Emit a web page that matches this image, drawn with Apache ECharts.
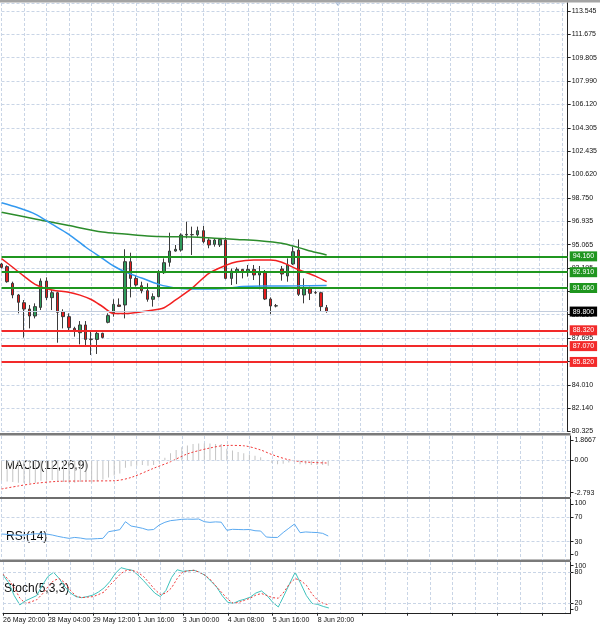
<!DOCTYPE html>
<html>
<head>
<meta charset="utf-8">
<script src="https://cdn.jsdelivr.net/npm/echarts@6/dist/echarts.min.js"></script>
<style>
html, body { margin: 0; padding: 0; background: #fff; }
#main { width: 600px; height: 629px; }
</style>
</head>
<body>
<div id="main"></div>
<script>
// bar times shown on the bottom axis (one every 8 bars)
var timeLabels = ['26 May 20:00', '28 May 04:00', '29 May 12:00', '1 Jun 16:00',
    '3 Jun 00:00', '4 Jun 08:00', '5 Jun 16:00', '8 Jun 20:00'];

// price scale labels, bottom to top
var priceTicks = ['80.325', '82.140', '84.010', '85.825', '87.695', '89.510', '91.380',
    '93.195', '95.065', '96.935', '98.750', '100.620', '102.435', '104.305', '106.120',
    '107.990', '109.805', '111.675', '113.545'];

// 4H bars: [open, close, low, high]
var ohlc = [
    [93.56, 93.29, 93.20, 93.65], [93.35, 92.16, 92.08, 93.45], [92.03, 91.11, 90.85, 92.16],
    [91.11, 90.53, 89.66, 91.19], [90.50, 90.00, 87.74, 90.71], [90.00, 89.45, 88.47, 90.32],
    [89.45, 90.19, 89.26, 90.45], [90.13, 92.21, 89.92, 92.42], [92.21, 90.90, 90.71, 92.50],
    [90.90, 91.29, 89.92, 91.50], [91.29, 89.74, 87.34, 91.37], [89.79, 89.40, 88.47, 89.98],
    [89.40, 88.53, 88.21, 89.66], [88.47, 88.26, 87.82, 88.60], [88.13, 88.74, 87.21, 89.05],
    [88.74, 87.60, 87.03, 89.05], [87.60, 87.62, 86.37, 88.34], [87.60, 88.08, 86.45, 88.34],
    [88.08, 87.76, 87.68, 88.13], [88.95, 89.48, 88.87, 89.66], [89.71, 90.37, 89.40, 90.77],
    [90.32, 90.21, 90.19, 90.84], [90.32, 93.74, 89.26, 94.72], [93.74, 92.42, 90.92, 94.45],
    [92.42, 91.90, 91.77, 92.69], [91.84, 91.45, 91.24, 92.16], [91.45, 90.77, 90.58, 92.03],
    [90.77, 90.98, 90.19, 91.24], [90.98, 92.87, 90.92, 93.08], [92.87, 93.66, 92.77, 94.00],
    [93.69, 94.58, 93.35, 96.03], [94.58, 94.72, 94.53, 95.06], [94.66, 95.85, 94.53, 95.98],
    [95.85, 95.90, 95.59, 96.90], [95.88, 95.87, 94.27, 96.51], [95.87, 96.19, 95.72, 96.51],
    [96.19, 95.32, 95.19, 96.56], [95.45, 95.06, 94.80, 95.59], [95.11, 95.45, 94.93, 95.59],
    [95.06, 95.50, 94.90, 95.60], [95.45, 92.42, 92.35, 95.66], [92.42, 93.00, 91.90, 93.20],
    [92.95, 93.13, 91.97, 93.29], [93.13, 92.95, 92.42, 93.16], [92.95, 93.13, 92.56, 93.48],
    [93.13, 92.69, 92.29, 93.48], [92.69, 92.95, 91.56, 93.40], [92.87, 90.79, 90.71, 93.08],
    [90.79, 90.24, 89.60, 90.92], [90.24, 90.26, 90.13, 90.40], [93.16, 92.77, 92.24, 93.40],
    [92.61, 93.48, 92.16, 94.00], [93.56, 94.53, 93.48, 94.93], [94.66, 91.16, 91.03, 95.50],
    [91.11, 91.63, 90.45, 92.42], [91.63, 91.24, 90.71, 91.77], [91.30, 91.28, 91.19, 91.42],
    [91.29, 90.19, 89.79, 91.37], [90.11, 89.80, 89.71, 90.32]
];

// moving averages read at sampled bars: [bar, price]
var maSlow = [[0, 97.64], [6, 97.12], [12, 96.60], [18, 96.08], [22, 95.93], [26, 95.77],
    [30, 95.71], [34, 95.70], [38, 95.60], [42, 95.50], [46, 95.40], [50, 95.20], [53, 94.85],
    [56, 94.48], [58, 94.27]];
var maMid = [[0, 98.40], [3, 98.00], [6, 97.50], [9, 96.70], [12, 95.90], [15, 94.90],
    [18, 94.00], [20, 93.40], [22, 92.95], [25, 92.45], [28, 91.95], [30, 91.75], [32, 91.62],
    [36, 91.58], [40, 91.62], [43, 91.78], [48, 91.82], [53, 91.83], [58, 91.86]];
var maFast = [[0, 93.98], [2, 93.30], [4, 92.60], [6, 91.95], [9, 91.50], [12, 91.33],
    [14, 91.10], [16, 90.75], [18, 90.20], [20, 89.65], [22, 89.65], [25, 89.78], [28, 89.98],
    [29, 90.10], [31, 90.70], [34, 91.65], [37, 92.82], [40, 93.45], [42, 93.74], [45, 93.87],
    [48, 93.87], [50, 93.70], [53, 93.10], [56, 92.60], [58, 92.16]];

var resistanceLevels = [94.16, 92.91, 91.66];
var supportLevels = [88.32, 87.07, 85.82];
var lastPrice = 89.80;

// MACD(12,26,9)
var macdMain = [-1.55, -1.6, -1.65, -1.7, -1.7, -1.75, -1.7, -1.55, -1.55, -1.5,
    -1.6, -1.65, -1.7, -1.7, -1.65, -1.65, -1.7, -1.6, -1.45, -1.3,
    -1.15, -1.0, -0.55, -0.45, -0.4, -0.35, -0.4, -0.35, -0.1, 0.2,
    0.55, 0.8, 1.0, 1.15, 1.25, 1.3, 1.3, 1.3, 1.25, 1.25,
    0.9, 0.75, 0.65, 0.55, 0.45, 0.35, 0.25, 0.0, -0.2, -0.3,
    -0.25, -0.15, 0.05, -0.3, -0.3, -0.35, -0.35, -0.35, -0.4];
var macdSignal = [[0, -2.18], [3, -1.95], [6, -1.75], [10, -1.6], [15, -1.57], [20, -1.55],
    [23, -1.3], [27, -0.6], [30, -0.1], [33, 0.5], [37, 0.95], [40, 1.15], [43, 1.12],
    [46, 0.8], [48, 0.45], [51, 0.05], [54, -0.12], [58, -0.2]];
var macdTicks = [-2.793, 0, 1.8667];

// RSI(14)
var rsi = [42.6, 42, 41, 40.5, 41, 42, 43, 43, 42.5, 41,
    38.8, 37, 35.5, 37, 36, 34.4, 34.5, 35, 35.5, 46.4,
    48, 49.7, 62.8, 55.7, 54, 52, 49.2, 50, 57.4, 61.8,
    64.5, 65.5, 66.7, 67, 66.8, 67.2, 62.8, 61.7, 62.5, 62,
    48.7, 50.3, 50, 49.7, 50, 48, 47.5, 37.7, 37, 37,
    45, 52, 59, 44.8, 46, 45.4, 45, 43.7, 39.3];
var rsiTicks = [0, 30, 70, 100];

// Stochastic(5,3,3)
var stochK = [75, 60, 35, 17, 25, 30, 35, 55, 72, 80,
    68, 52, 40, 33, 31, 33, 36, 42, 50, 62,
    78, 89, 86, 84, 75, 64, 52, 40, 33, 45,
    70, 85, 82, 83, 84, 80, 74, 63, 52, 35,
    22, 20, 25, 28, 32, 40, 44, 35, 22, 13,
    35, 58, 80, 58, 35, 20, 18, 14, 11];
var stochD = [76, 66, 50, 30, 20, 23, 27, 38, 52, 64,
    68, 60, 45, 34, 31, 32, 33, 37, 42, 55,
    66, 78, 84, 84, 80, 72, 60, 47, 37, 40,
    50, 68, 81, 83, 84, 80, 74, 65, 52, 40,
    28, 20, 22, 26, 30, 36, 39, 35, 31, 30,
    42, 58, 68, 64, 55, 38, 26, 20, 17];
var stochTicks = [0, 20, 80, 100];

var SLOTS = 102;
var AXIS_X = 570.5;
var LABEL_FONT = 'Liberation Sans';

function createChart() {
    var chartDom = document.getElementById('main');
    var myChart = echarts.init(chartDom);

    var categories = [];
    for (var i = 0; i < SLOTS; i++) categories.push(String(i));

    var gridDash = { color: '#c9d5e6', type: [3, 2], width: 1 };
    var axisLine = { show: true, lineStyle: { color: '#222', width: 1 } };
    var labelFont = { fontSize: 7, fontFamily: LABEL_FONT, color: '#111' };

    // main price panel: top 3 .. 431.5, 113.545 sits at y=11
    var pxPerUnit = 420.5 / (113.545 - 80.325);
    var priceMax = 113.545 + 8 / pxPerUnit;
    var tickStep = (113.545 - 80.325) / (priceTicks.length - 1);

    function xAxisFor(g, withLabels) {
        return {
            type: 'category', gridIndex: g, data: categories, boundaryGap: false,
            axisLine: { show: withLabels, lineStyle: { color: '#222', width: 1 } },
            axisTick: { show: withLabels, interval: 7, length: 2, lineStyle: { color: '#222' } },
            axisLabel: Object.assign({
                show: withLabels, interval: 7, align: 'left', margin: 3,
                formatter: function (v, idx) { return timeLabels[idx / 8] || ''; }
            }, labelFont),
            splitLine: { show: true, interval: 3, lineStyle: gridDash }
        };
    }

    // oscillator scales: one tick per unit, text only where the terminal prints it;
    // the 0 and 100 texts sit a little inside the panel
    function oscPositions(ticks, insetUnits) {
        return ticks.map(function (t) {
            return t === 100 ? 100 - insetUnits[1] : t === 0 ? insetUnits[0] : t;
        });
    }
    function oscAxis(g, ticks, pos, skip) {
        return {
            type: 'value', gridIndex: g, position: 'right', min: 0, max: 100, interval: 1,
            axisLine: axisLine,
            axisTick: { show: true, length: 3, customValues: pos, lineStyle: { color: '#222' } },
            axisLabel: Object.assign({
                margin: 4, hideOverlap: false,
                formatter: function (v) {
                    var k = pos.indexOf(Math.round(v));
                    if (k < 0 || Math.abs(v - Math.round(v)) > 0.01 || ticks[k] === skip) return '';
                    return String(ticks[k]);
                }
            }, labelFont),
            splitLine: { show: false }
        };
    }
    var rsiPos = oscPositions(rsiTicks, [9, 9]);
    var stochPos = oscPositions(stochTicks, [9, 7]);

    var macdRange = [-2.793, 1.8667];
    var macdPos = macdTicks.map(function (t) {
        return t === macdRange[1] ? t - 0.31 : t === macdRange[0] ? t + 0.33 : t;
    });

    function levelLine(v, color, width) {
        return {
            yAxis: v,
            lineStyle: { color: color, width: width, type: 'solid' },
            label: {
                show: true, position: 'end', distance: 2,
                formatter: v.toFixed(3), color: '#fff', backgroundColor: color,
                padding: [2, 3, 1, 3], fontSize: 7, fontFamily: LABEL_FONT
            }
        };
    }

    var levels = [];
    resistanceLevels.forEach(function (v) { levels.push(levelLine(v, '#1f961f', 2)); });
    supportLevels.forEach(function (v) { levels.push(levelLine(v, '#f22a2a', 2)); });
    var lastLine = levelLine(lastPrice, '#c3cddd', 1);
    lastLine.label.backgroundColor = '#000';
    levels.push(lastLine);

    var textStyle = { fill: '#111', font: '12px "Liberation Sans"' };

    var option = {
        animation: false,
        backgroundColor: '#fff',
        grid: [
            { left: 1.5, right: 600 - AXIS_X, top: 3, height: 428.5 },
            { left: 1.5, right: 600 - AXIS_X, top: 436, height: 61 },
            { left: 1.5, right: 600 - AXIS_X, top: 499, height: 61 },
            { left: 1.5, right: 600 - AXIS_X, top: 562, height: 51.7 }
        ],
        xAxis: [xAxisFor(0, false), xAxisFor(1, false), xAxisFor(2, false), xAxisFor(3, true)],
        yAxis: [
            { type: 'value', gridIndex: 0, min: 80.325, max: priceMax, show: false },
            {
                type: 'value', gridIndex: 0, position: 'right',
                min: 0, max: (priceMax - 80.325) / tickStep, interval: 1,
                axisLine: axisLine,
                axisTick: { show: true, length: 3, lineStyle: { color: '#222' } },
                axisLabel: Object.assign({
                    margin: 4, showMaxLabel: false,
                    formatter: function (v) {
                        if (Math.abs(v - Math.round(v)) > 0.01) return '';
                        return priceTicks[Math.round(v)] || '';
                    }
                }, labelFont),
                splitLine: { show: true, lineStyle: gridDash }
            },
            {
                type: 'value', gridIndex: 1, position: 'right', min: macdRange[0], max: macdRange[1],
                axisLine: axisLine,
                axisTick: { show: true, length: 3, customValues: macdPos, lineStyle: { color: '#222' } },
                axisLabel: Object.assign({
                    customValues: macdPos, margin: 4,
                    formatter: function (v) {
                        var k = 0;
                        macdPos.forEach(function (p, j) { if (Math.abs(p - v) < Math.abs(macdPos[k] - v)) k = j; });
                        return macdTicks[k] === 0 ? '0.00' : String(macdTicks[k]);
                    }
                }, labelFont),
                splitLine: { show: false }
            },
            oscAxis(2, rsiTicks, rsiPos, 100),
            oscAxis(3, stochTicks, stochPos, null)
        ],
        graphic: [
            { type: 'rect', shape: { x: 0, y: 0, width: 600, height: 2.5 }, style: { fill: '#a4a4a4' } },
            { type: 'rect', shape: { x: 0, y: 433, width: AXIS_X, height: 2.5 }, style: { fill: '#7a7a7a' } },
            { type: 'rect', shape: { x: 0, y: 497, width: AXIS_X, height: 2 }, style: { fill: '#6e6e6e' } },
            { type: 'rect', shape: { x: 0, y: 559.5, width: AXIS_X, height: 2.5 }, style: { fill: '#7a7a7a' } },
            { type: 'polygon', shape: { points: [[335, 2.5], [341, 2.5], [338, 6]] }, style: { fill: '#9fb3cf' } },
            { type: 'text', left: 5, top: 460, style: Object.assign({ text: 'MACD(12,26,9)' }, textStyle) },
            { type: 'text', left: 6, top: 531, style: Object.assign({ text: 'RSI(14)' }, textStyle) },
            { type: 'text', left: 4, top: 583, style: Object.assign({ text: 'Stoch(5,3,3)' }, textStyle) },
            // top value of the RSI scale, printed just under the panel edge
            {
                type: 'text', left: AXIS_X + 4, top: 500, z: 100,
                style: { text: String(rsiTicks[rsiTicks.length - 1]), fill: '#111', font: '7px "Liberation Sans"' }
            }
        ],
        series: [
            {
                name: 'price', type: 'candlestick', xAxisIndex: 0, yAxisIndex: 0,
                data: ohlc, barWidth: 3,
                itemStyle: {
                    color: '#2f9b5c', color0: '#e41c1c',
                    borderColor: '#3b3b3b', borderColor0: '#3b3b3b', borderWidth: 1
                },
                markLine: { symbol: 'none', silent: true, animation: false, data: levels }
            },
            {
                type: 'line', xAxisIndex: 0, yAxisIndex: 0, data: maSlow, smooth: 0.3,
                showSymbol: false, lineStyle: { color: '#2b8c2b', width: 1.5 }
            },
            {
                type: 'line', xAxisIndex: 0, yAxisIndex: 0, data: maMid, smooth: 0.3,
                showSymbol: false, lineStyle: { color: '#3399f0', width: 1.5 }
            },
            {
                type: 'line', xAxisIndex: 0, yAxisIndex: 0, data: maFast, smooth: 0.3,
                showSymbol: false, lineStyle: { color: '#f22020', width: 1.5 }
            },
            {
                type: 'bar', xAxisIndex: 1, yAxisIndex: 2, data: macdMain, barWidth: 1,
                itemStyle: { color: '#c4c4c4' },
                markLine: {
                    symbol: 'none', silent: true, label: { show: false },
                    lineStyle: gridDash, data: [{ yAxis: 0 }]
                }
            },
            {
                type: 'line', xAxisIndex: 1, yAxisIndex: 2, data: macdSignal, smooth: 0.3,
                showSymbol: false, lineStyle: { color: '#f03a3a', width: 1, type: [2, 2] }
            },
            {
                type: 'line', xAxisIndex: 2, yAxisIndex: 3, data: rsi,
                showSymbol: false, lineStyle: { color: '#5aa9f0', width: 1 },
                markLine: {
                    symbol: 'none', silent: true, label: { show: false },
                    lineStyle: gridDash, data: [{ yAxis: 30 }, { yAxis: 70 }]
                }
            },
            {
                type: 'line', xAxisIndex: 3, yAxisIndex: 4, data: stochK,
                showSymbol: false, lineStyle: { color: '#3fc3bd', width: 1 },
                markLine: {
                    symbol: 'none', silent: true, label: { show: false },
                    lineStyle: gridDash, data: [{ yAxis: 20 }, { yAxis: 80 }]
                }
            },
            {
                type: 'line', xAxisIndex: 3, yAxisIndex: 4, data: stochD,
                showSymbol: false, lineStyle: { color: '#f03a3a', width: 1, type: [2, 2] }
            }
        ]
    };

    option && myChart.setOption(option);
}

createChart();
</script>
</body>
</html>
